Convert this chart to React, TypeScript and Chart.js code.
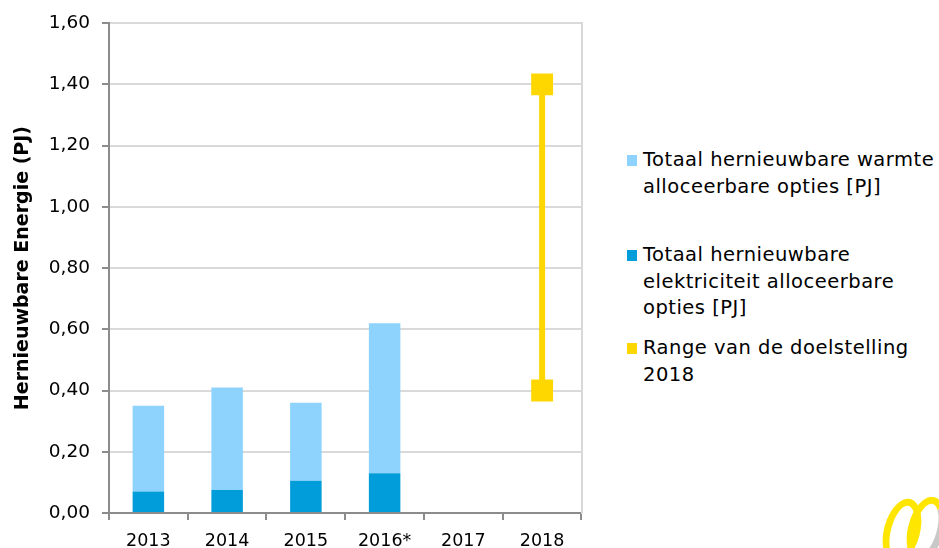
import React, { useEffect, useRef } from "react";
import { Chart, registerables } from "chart.js";

Chart.register(...registerables);

const categories = ["2013", "2014", "2015", "2016*", "2017", "2018"];
const elektriciteit = [0.07, 0.075, 0.105, 0.13, null, null];
const warmte = [0.28, 0.335, 0.255, 0.49, null, null];
const rangeYear = "2018";
const rangeLow = 0.4;
const rangeHigh = 1.4;
const yTicks = [0, 0.2, 0.4, 0.6, 0.8, 1.0, 1.2, 1.4, 1.6];

const labelWarmte = ["Totaal hernieuwbare warmte", "alloceerbare opties [PJ]"];
const labelElek = ["Totaal hernieuwbare", "elektriciteit alloceerbare", "opties [PJ]"];
const labelRange = ["Range van de doelstelling", "2018"];

const LIGHT = "#8ED3FE";
const DARK = "#009DDA";
const YELLOW = "#FFD700";
const FONT = "'DejaVu Sans', sans-serif";

export default function App() {
  const ref = useRef<HTMLCanvasElement | null>(null);

  useEffect(() => {
    if (!ref.current) return;
    const chart = new Chart(ref.current, {
      type: "bar",
      data: {
        labels: categories,
        datasets: [
          {
            label: labelElek.join(" "),
            data: elektriciteit,
            backgroundColor: DARK,
            stack: "bars",
            categoryPercentage: 1,
            barPercentage: 0.4,
            order: 2,
          },
          {
            label: labelWarmte.join(" "),
            data: warmte,
            backgroundColor: LIGHT,
            stack: "bars",
            categoryPercentage: 1,
            barPercentage: 0.4,
            order: 2,
          },
          {
            type: "line",
            label: labelRange.join(" "),
            data: [
              { x: rangeYear, y: rangeLow },
              { x: rangeYear, y: rangeHigh },
            ] as any,
            borderColor: YELLOW,
            backgroundColor: YELLOW,
            borderWidth: 6,
            pointStyle: "rect",
            pointRadius: 15.5,
            pointBorderWidth: 0,
            stack: "range",
            order: 1,
          } as any,
        ],
      },
      options: {
        responsive: false,
        animation: false,
        layout: { padding: { top: 7, right: 2, bottom: 0, left: 12 } },
        plugins: {
          legend: { display: false },
          tooltip: { enabled: false },
        },
        scales: {
          x: {
            stacked: true,
            offset: true,
            grid: {
              offset: true,
              drawOnChartArea: false,
              drawTicks: true,
              tickLength: 7,
              color: "#8C8C8C",
              lineWidth: 2,
            },
            border: { color: "#8C8C8C", width: 2 },
            ticks: { color: "#000", font: { family: FONT, size: 17.5 }, padding: 11 },
          },
          y: {
            stacked: true,
            min: 0,
            max: 1.6,
            afterBuildTicks: (axis: any) => {
              axis.ticks = yTicks.map((v) => ({ value: v }));
            },
            ticks: {
              color: "#000",
              font: { family: FONT, size: 18.5 },
              padding: 12,
              callback: (v: any) => Number(v).toFixed(2).replace(".", ","),
            },
            grid: {
              color: "#D9D9D9",
              lineWidth: 2,
              tickColor: "#8C8C8C",
              tickLength: 7,
            },
            border: { color: "#8C8C8C", width: 2 },
            title: {
              display: true,
              text: "Hernieuwbare Energie (PJ)",
              color: "#000",
              font: { family: FONT, size: 19, weight: "bold" },
              padding: { top: 0, bottom: 2 },
            },
          },
          yr: {
            position: "right",
            min: 0,
            max: 1.6,
            ticks: { display: false },
            grid: { drawOnChartArea: false, drawTicks: false },
            border: { color: "#D9D9D9", width: 2 },
          },
        },
      } as any,
    });
    return () => chart.destroy();
  }, []);

  const legendItem = (color: string, lines: string[], top: number) => (
    <div style={{ position: "absolute", left: 627, top, width: 312, display: "flex", alignItems: "flex-start" }}>
      <div style={{ width: 10, height: 11, background: color, marginTop: 8, marginRight: 6, flex: "none" }} />
      <div style={{ fontFamily: FONT, fontSize: 19.5, letterSpacing: "0.5px", lineHeight: "26.5px", color: "#000", whiteSpace: "nowrap" }}>
        {lines.map((l, i) => (
          <div key={i}>{l}</div>
        ))}
      </div>
    </div>
  );

  return (
    <div style={{ position: "fixed", left: 0, top: 0, width: 939, height: 548, background: "#fff", overflow: "hidden" }}>
      <canvas ref={ref} width={597} height={563} style={{ position: "absolute", left: 0, top: 0 }} />
      {legendItem(LIGHT, labelWarmte, 147)}
      {legendItem(DARK, labelElek, 242)}
      {legendItem(YELLOW, labelRange, 335)}
      <div style={{ position: "absolute", left: 884, top: 498, width: 22, height: 52, border: "7px solid #FFE600", borderRadius: "50%", transform: "rotate(15deg)" }} />
      <div style={{ position: "absolute", left: 908, top: 496, width: 22, height: 52, borderTop: "7px solid #FFE600", borderLeft: "7px solid #FFE600", borderBottom: "7px solid #FFE600", borderRight: "7px solid #C8C8C8", borderRadius: "50%", transform: "rotate(15deg)" }} />
    </div>
  );
}
